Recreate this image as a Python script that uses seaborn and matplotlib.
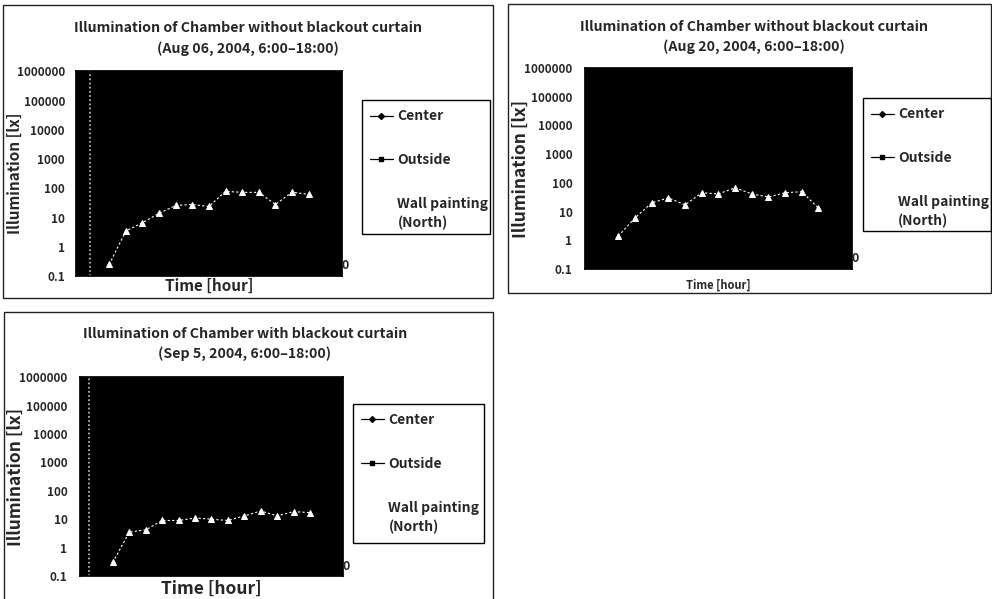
import matplotlib
matplotlib.use("Agg")
import matplotlib.pyplot as plt
from matplotlib.lines import Line2D
from matplotlib.patches import Rectangle
import seaborn as sns

# Data (hour of day vs illumination in lx)
hours = [6, 7, 8, 9, 10, 11, 12, 13, 14, 15, 16, 17, 18]
wall_aug06 = [0.25, 3.5, 6.7, 14, 26, 28, 24, 79, 73, 73, 28, 74, 62]
wall_aug20 = [1.4, 6, 20, 30, 17, 45, 41, 67, 41, 32, 45, 49, 13]
wall_sep05 = [0.3, 3.5, 4.2, 9, 9, 11, 10, 9, 13, 19.5, 13, 18.5, 17]

titles = [
    "Illumination of Chamber without blackout curtain\n(Aug 06, 2004, 6:00\u201318:00)",
    "Illumination of Chamber without blackout curtain\n(Aug 20, 2004, 6:00\u201318:00)",
    "Illumination of Chamber with blackout curtain\n(Sep 5, 2004, 6:00\u201318:00)",
]
ytick_vals = [0.1, 1, 10, 100, 1000, 10000, 100000, 1000000]
ytick_labels = ["0.1", "1", "10", "100", "1000", "10000", "100000", "1000000"]
legend_labels = ["Center", "Outside", "Wall painting\n(North)"]

sns.set_theme(style="white")
plt.rcParams["font.family"] = ["Noto Sans CJK JP", "DejaVu Sans"]
plt.rcParams["font.weight"] = "bold"

fig = plt.figure(figsize=(9.92, 5.99), dpi=100)

# per-panel layout (figure fractions)
panels = [
    dict(data=wall_aug06, ax=[0.0766, 0.539, 0.268, 0.342], frame=[0.003, 0.5025, 0.494, 0.489],
         leg=[0.365, 0.609, 0.129, 0.2237], title_xy=(0.25, 0.936), ylab_x=-0.20,
         ylab_fs=11, xlab_fs=11, xlab_pad=1, tick_pad=8, vline=4.85),
    dict(data=wall_aug20, ax=[0.5897, 0.551, 0.269, 0.3356], frame=[0.512, 0.511, 0.487, 0.4825],
         leg=[0.870, 0.614, 0.129, 0.222], title_xy=(0.760, 0.938), ylab_x=-0.206,
         ylab_fs=12.5, xlab_fs=8, xlab_pad=7, tick_pad=9, vline=None),
    dict(data=wall_sep05, ax=[0.0806, 0.0384, 0.265, 0.332], frame=[0.004, -0.05, 0.493, 0.529],
         leg=[0.356, 0.0935, 0.132, 0.232], title_xy=(0.247, 0.426), ylab_x=-0.209,
         ylab_fs=12.5, xlab_fs=12.5, xlab_pad=3, tick_pad=9, vline=4.55),
]

for p, title in zip(panels, titles):
    # panel frame
    fig.patches.append(Rectangle((p["frame"][0], p["frame"][1]), p["frame"][2], p["frame"][3],
                                 transform=fig.transFigure, fill=False, edgecolor="#222222", lw=1.0))
    ax = fig.add_axes(p["ax"])
    ax.set_facecolor("black")
    if p["vline"] is not None:
        ax.axvline(p["vline"], color="#cccccc", lw=1.2, ls=(0, (1, 1.5)))
    sns.lineplot(x=hours, y=p["data"], ax=ax, color="white", marker="^", markersize=5,
                 markeredgecolor="white", linestyle=(0, (2, 2)), lw=0.8)
    ax.set_yscale("log")
    ax.set_ylim(0.1, 1000000)
    ax.set_xlim(4, 20)
    ax.set_yticks(ytick_vals)
    ax.set_yticklabels(ytick_labels)
    ax.minorticks_off()
    ax.set_xticks([])
    ax.tick_params(axis="y", length=0, pad=p["tick_pad"], labelsize=8.5)
    for s in ax.spines.values():
        s.set_color("black")
    ax.set_ylabel("Illumination [lx]", fontsize=p["ylab_fs"], fontweight="bold")
    ax.yaxis.set_label_coords(p["ylab_x"], 0.5)
    ax.set_xlabel("Time [hour]", fontsize=p["xlab_fs"], fontweight="bold", labelpad=p["xlab_pad"])
    ax.text(1.0, 0.05, "0", transform=ax.transAxes, ha="left", va="center", fontsize=9)

    fig.text(p["title_xy"][0], p["title_xy"][1], title, ha="center", va="center",
             fontsize=10.2, fontweight="bold", linespacing=1.5)

    # legend box with its entries
    lx, ly, lw_, lh = p["leg"]
    fig.patches.append(Rectangle((lx, ly), lw_, lh, transform=fig.transFigure,
                                 fill=False, edgecolor="black", lw=1.0))
    handles = [
        Line2D([], [], color="black", lw=0.9, marker="D", markersize=3),
        Line2D([], [], color="black", lw=0.9, marker="s", markersize=3),
        Line2D([], [], color="white", lw=0.9, marker="^", markersize=3),
    ]
    leg = fig.legend(handles, legend_labels, loc="upper left",
                     bbox_to_anchor=(lx + 0.002, ly + lh - 0.006),
                     bbox_transform=fig.transFigure, frameon=False, fontsize=10,
                     handlelength=1.7, handletextpad=0.3, labelspacing=2.15, borderaxespad=0)
    leg.get_texts()[2].set_linespacing(1.4)

fig.savefig("out.png", dpi=100, facecolor="white")
